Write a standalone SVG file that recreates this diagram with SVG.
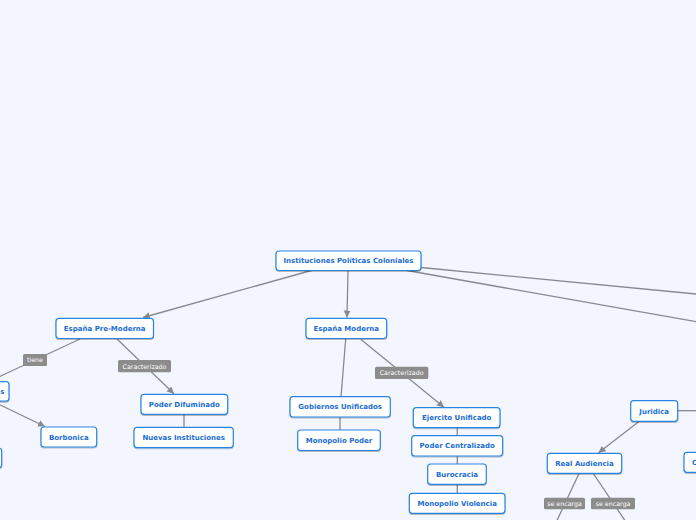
<svg xmlns="http://www.w3.org/2000/svg" width="696" height="520" viewBox="0 0 696 520">
<defs>
<style>
.n rect{fill:#fff;stroke:#2b84e3;stroke-width:1.2;filter:url(#sh)}
.n text{font-family:"DejaVu Sans",Verdana,sans-serif;font-weight:bold;font-size:7px;fill:#1b6dd2;text-anchor:middle}
.c line{stroke:#88898f;stroke-width:1.3;fill:none}
.c .a{marker-end:url(#ar)}
.l rect{fill:#8c8c8c}
.l text{font-family:"DejaVu Sans",Verdana,sans-serif;font-size:6.3px;fill:#fff;text-anchor:middle}
</style>
<filter id="sh" x="-10%" y="-20%" width="120%" height="160%">
<feDropShadow dx="0" dy="1" stdDeviation="0.6" flood-color="#000" flood-opacity="0.25"/>
</filter>
<marker id="ar" markerUnits="userSpaceOnUse" markerWidth="10" markerHeight="10" refX="7" refY="3.5" orient="auto">
<path d="M0,0 L7,3.5 L0,7 Z" fill="#88898f"/>
</marker>
</defs>
<rect width="696" height="520" fill="#f3f6fe"/>
<g class="c" id="connectors">
<line class="a" x1="313" y1="270" x2="143" y2="317.5"/>
<line class="a" x1="348" y1="270" x2="347" y2="317.5"/>
<line x1="421" y1="267.5" x2="700" y2="294.4"/>
<line x1="407" y1="270.5" x2="700" y2="322.4"/>
<line x1="80" y1="339" x2="-12" y2="382"/>
<line class="a" x1="-8" y1="401" x2="45" y2="426.5"/>
<line class="a" x1="117" y1="339" x2="174" y2="393.8"/>
<line x1="184" y1="414" x2="184" y2="428"/>
<line x1="345.7" y1="339" x2="341" y2="397"/>
<line x1="340" y1="417" x2="340" y2="430"/>
<line class="a" x1="361" y1="339.5" x2="444" y2="407.2"/>
<line x1="457.3" y1="427" x2="457.3" y2="494"/>
<line x1="678" y1="410.7" x2="700" y2="410.7"/>
<line class="a" x1="639" y1="421.5" x2="598.5" y2="452.8"/>
<line x1="579" y1="473.5" x2="552" y2="531"/>
<line x1="593.3" y1="473.5" x2="632" y2="531"/>
</g>
<g class="l" id="lbl-tiene"><rect x="23" y="354" width="24" height="12" rx="1.5"/><text x="35" y="362.3">tiene</text></g>
<g class="l" id="lbl-car1"><rect x="118" y="360" width="53" height="12.3" rx="1.5"/><text x="144.5" y="368.5">Caracterizado</text></g>
<g class="l" id="lbl-car2"><rect x="375" y="366.7" width="53.3" height="12.3" rx="1.5"/><text x="401.6" y="375.2">Caracterizado</text></g>
<g class="l" id="lbl-enc1"><rect x="544" y="497.7" width="41" height="11.6" rx="1.5"/><text x="564.5" y="505.9">se encarga</text></g>
<g class="l" id="lbl-enc2"><rect x="591" y="497.7" width="44" height="11.6" rx="1.5"/><text x="613" y="505.9">se encarga</text></g>
<g class="n" id="root"><rect x="276" y="251" width="145" height="19.5" rx="3"/><text x="348.5" y="263.2">Instituciones Políticas Coloniales</text></g>
<g class="n" id="pre"><rect x="56" y="318.3" width="97.5" height="20.2" rx="3"/><text x="104.7" y="330.9">España Pre-Moderna</text></g>
<g class="n" id="mod"><rect x="306" y="318.3" width="80.7" height="20.2" rx="3"/><text x="346.3" y="330.9">España Moderna</text></g>
<g class="n" id="left1"><rect x="-60" y="381.7" width="69" height="19.5" rx="3"/><text x="4.5" y="394" style="text-anchor:end">s</text></g>
<g class="n" id="left2"><rect x="-60" y="448" width="61.7" height="19.7" rx="3"/></g>
<g class="n" id="borb"><rect x="41" y="427" width="55.7" height="20" rx="3"/><text x="68.8" y="439.6">Borbonica</text></g>
<g class="n" id="pdif"><rect x="141" y="394.3" width="86.7" height="20" rx="3"/><text x="184.3" y="406.9">Poder Difuminado</text></g>
<g class="n" id="nins"><rect x="134" y="427.3" width="99.3" height="20.3" rx="3"/><text x="183.7" y="440">Nuevas Instituciones</text></g>
<g class="n" id="gob"><rect x="290" y="396.7" width="100.3" height="20.3" rx="3"/><text x="340.2" y="409.4">Gobiernos Unificados</text></g>
<g class="n" id="mpod"><rect x="297.7" y="430" width="82.6" height="20.5" rx="3"/><text x="339" y="442.8">Monopolio Poder</text></g>
<g class="n" id="ejer"><rect x="413.3" y="407.7" width="86.7" height="20" rx="3"/><text x="456.7" y="420.3">Ejercito Unificado</text></g>
<g class="n" id="pcen"><rect x="411.7" y="435.7" width="91" height="20.3" rx="3"/><text x="457.2" y="448.4">Poder Centralizado</text></g>
<g class="n" id="buro"><rect x="427.7" y="464" width="58.6" height="20.3" rx="3"/><text x="457" y="476.7">Burocracia</text></g>
<g class="n" id="mvio"><rect x="409.3" y="493.3" width="95.7" height="20" rx="3"/><text x="457.2" y="505.9">Monopolio Violencia</text></g>
<g class="n" id="jur"><rect x="630.7" y="400.7" width="47" height="20.6" rx="3"/><text x="654.2" y="413.5">Juridica</text></g>
<g class="n" id="real"><rect x="547.3" y="453.3" width="74.4" height="20" rx="3"/><text x="584.5" y="465.9">Real Audiencia</text></g>
<g class="n" id="right1"><rect x="684" y="452.3" width="60" height="20" rx="3"/><text x="692" y="465" style="text-anchor:start">C</text></g>
</svg>
